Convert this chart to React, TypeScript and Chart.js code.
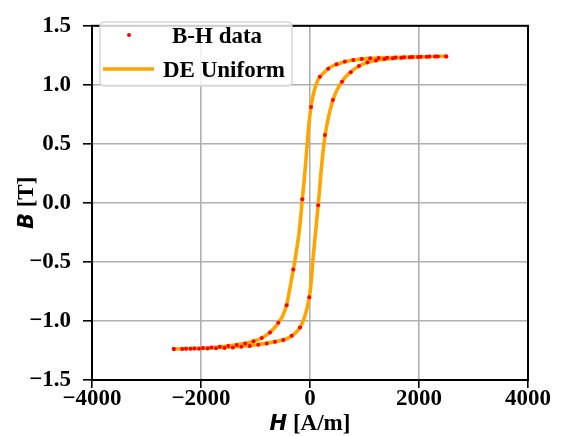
import React, { useEffect, useRef } from 'react';
import { Chart, registerables } from 'chart.js';

Chart.register(...registerables);

// Axis ticks
const xTickValues = [-4000, -2000, 0, 2000, 4000];
const xTickLabels = ['\u22124000', '\u22122000', '0', '2000', '4000'];
const yTickValues = [-1.5, -1.0, -0.5, 0.0, 0.5, 1.0, 1.5];
const yTickLabels = ['\u22121.5', '\u22121.0', '\u22120.5', '0.0', '0.5', '1.0', '1.5'];

// Legend labels
const legendLabels = ['B-H data', 'DE Uniform'];

// Measured B-H data, descending branch (H from +2500 to -2500)
const dataHDesc = [2500, 2345, 2190, 2035, 1880, 1725, 1570, 1415, 1260, 1105, 950, 795, 640, 487, 335, 180, 18, -141, -306, -428, -581, -734, -885, -1035, -1190, -1345, -1500, -1655, -1810, -1965, -2120, -2275, -2500];
const dataBDesc = [1.241, 1.240, 1.239, 1.238, 1.236, 1.234, 1.232, 1.230, 1.228, 1.225, 1.219, 1.211, 1.197, 1.174, 1.137, 1.068, 0.812, 0.030, -0.565, -0.866, -1.016, -1.097, -1.145, -1.172, -1.190, -1.203, -1.212, -1.219, -1.225, -1.229, -1.233, -1.236, -1.238];

// Measured B-H data, ascending branch (H from -2500 to +2500)
const dataHAsc = [-2500, -2345, -2190, -2035, -1880, -1725, -1570, -1415, -1260, -1105, -950, -795, -642, -490, -336, -183, -13, 150, 275, 420, 587, 747, 899, 1055, 1210, 1365, 1520, 1675, 1830, 1985, 2140, 2295, 2500];
const dataBAsc = [-1.238, -1.237, -1.236, -1.235, -1.233, -1.231, -1.228, -1.224, -1.218, -1.211, -1.201, -1.190, -1.177, -1.161, -1.126, -1.055, -0.800, -0.020, 0.576, 0.871, 1.027, 1.107, 1.159, 1.190, 1.207, 1.218, 1.225, 1.230, 1.234, 1.236, 1.238, 1.240, 1.241];

// DE Uniform model curve, descending branch
const fitHDesc = [2500, 2100, 1800, 1500, 1250, 1100, 950, 800, 650, 500, 420, 335, 260, 210, 183, 140, 104, 70, 42, 18, 0, -20, -42, -65, -90, -115, -141, -170, -200, -240, -270, -306, -360, -428, -500, -581, -660, -734, -810, -885, -1035, -1200, -1500, -1800, -2100, -2500];
const fitBDesc = [1.242, 1.238, 1.235, 1.231, 1.227, 1.224, 1.218, 1.210, 1.196, 1.175, 1.160, 1.137, 1.105, 1.082, 1.068, 1.035, 0.990, 0.935, 0.877, 0.812, 0.750, 0.670, 0.550, 0.420, 0.280, 0.150, 0.030, -0.120, -0.250, -0.380, -0.470, -0.565, -0.700, -0.862, -0.955, -1.016, -1.062, -1.097, -1.124, -1.145, -1.172, -1.191, -1.212, -1.225, -1.232, -1.237];

// DE Uniform model curve, ascending branch
const fitHAsc = [-2500, -2100, -1800, -1500, -1200, -1000, -800, -650, -500, -400, -300, -220, -160, -110, -70, -40, -13, 10, 30, 50, 75, 100, 125, 150, 175, 200, 225, 250, 275, 310, 350, 420, 500, 587, 660, 747, 820, 899, 1000, 1100, 1250, 1500, 1800, 2100, 2500];
const fitBAsc = [-1.237, -1.233, -1.228, -1.222, -1.212, -1.203, -1.190, -1.177, -1.161, -1.145, -1.115, -1.078, -1.035, -0.980, -0.920, -0.860, -0.800, -0.720, -0.620, -0.500, -0.380, -0.260, -0.140, -0.020, 0.110, 0.250, 0.370, 0.475, 0.565, 0.660, 0.750, 0.870, 0.960, 1.027, 1.070, 1.107, 1.135, 1.158, 1.182, 1.196, 1.210, 1.224, 1.232, 1.237, 1.242];

const SERIF = "'Liberation Serif', 'Times New Roman', serif";
const SANS = "'DejaVu Sans', sans-serif";

const toPoints = (xs: number[], ys: number[]) => xs.map((x, i) => ({ x, y: ys[i] }));

const decorPlugin = {
  id: 'decor',
  afterDatasetsDraw(chart: any) {
    const { ctx, chartArea } = chart;
    const { left, right, top, bottom } = chartArea;
    ctx.save();
    // frame
    ctx.strokeStyle = '#000';
    ctx.lineWidth = 2;
    ctx.strokeRect(left, top, right - left, bottom - top);

    // legend box
    const bx = 100, by = 22, bw = 192, bh = 64, r = 5;
    ctx.beginPath();
    ctx.moveTo(bx + r, by);
    ctx.lineTo(bx + bw - r, by);
    ctx.quadraticCurveTo(bx + bw, by, bx + bw, by + r);
    ctx.lineTo(bx + bw, by + bh - r);
    ctx.quadraticCurveTo(bx + bw, by + bh, bx + bw - r, by + bh);
    ctx.lineTo(bx + r, by + bh);
    ctx.quadraticCurveTo(bx, by + bh, bx, by + bh - r);
    ctx.lineTo(bx, by + r);
    ctx.quadraticCurveTo(bx, by, bx + r, by);
    ctx.closePath();
    ctx.fillStyle = 'rgba(255,255,255,0.8)';
    ctx.fill();
    ctx.strokeStyle = '#d6d6d6';
    ctx.lineWidth = 1.5;
    ctx.stroke();

    // legend entries
    ctx.fillStyle = '#ff0000';
    ctx.beginPath();
    ctx.arc(129, 35, 2, 0, Math.PI * 2);
    ctx.fill();
    ctx.strokeStyle = '#FFA500';
    ctx.lineWidth = 3.5;
    ctx.beginPath();
    ctx.moveTo(103, 69);
    ctx.lineTo(154, 69);
    ctx.stroke();

    ctx.fillStyle = '#000';
    ctx.textAlign = 'left';
    ctx.textBaseline = 'alphabetic';
    ctx.font = `bold 23px ${SERIF}`;
    ctx.fillText(legendLabels[0], 172, 43);
    ctx.fillText(legendLabels[1], 163, 77);

    // x axis title: H [A/m]
    const xPart1 = 'H';
    const xPart2 = ' [A/m]';
    ctx.font = `italic bold 21px ${SANS}`;
    const w1 = ctx.measureText(xPart1).width;
    ctx.font = `bold 23px ${SERIF}`;
    const w2 = ctx.measureText(xPart2).width;
    const cx = (left + right) / 2;
    const sx = cx - (w1 + w2) / 2;
    const baseY = 430;
    ctx.font = `italic bold 21px ${SANS}`;
    ctx.fillText(xPart1, sx, baseY);
    ctx.font = `bold 23px ${SERIF}`;
    ctx.fillText(xPart2, sx + w1, baseY);

    // y axis title: B [T]
    const yPart1 = 'B';
    const yPart2 = ' [T]';
    ctx.font = `italic bold 21px ${SANS}`;
    const v1 = ctx.measureText(yPart1).width;
    ctx.font = `bold 23px ${SERIF}`;
    const v2 = ctx.measureText(yPart2).width;
    ctx.translate(33, (top + bottom) / 2);
    ctx.rotate(-Math.PI / 2);
    const sy = -(v1 + v2) / 2;
    ctx.font = `italic bold 21px ${SANS}`;
    ctx.fillText(yPart1, sy, 0);
    ctx.font = `bold 23px ${SERIF}`;
    ctx.fillText(yPart2, sy + v1, 0);
    ctx.restore();
  },
};

export default function App() {
  const canvasRef = useRef<HTMLCanvasElement | null>(null);

  useEffect(() => {
    document.body.style.margin = '0';
    const canvas = canvasRef.current;
    if (!canvas) return;
    const dataPoints = [...toPoints(dataHDesc, dataBDesc), ...toPoints(dataHAsc, dataBAsc)];
    const fitPoints = [...toPoints(fitHDesc, fitBDesc), ...toPoints(fitHAsc, fitBAsc)];

    const chart = new Chart(canvas, {
      type: 'scatter',
      data: {
        datasets: [
          {
            label: legendLabels[0],
            data: dataPoints,
            pointRadius: 2,
            pointBackgroundColor: '#ff0000',
            pointBorderWidth: 0,
            showLine: false,
          },
          {
            label: legendLabels[1],
            data: fitPoints,
            showLine: true,
            pointRadius: 0,
            borderColor: '#FFA500',
            borderWidth: 3.6,
            tension: 0.2,
            fill: false,
          },
        ],
      },
      options: {
        animation: false,
        responsive: false,
        maintainAspectRatio: false,
        devicePixelRatio: 1,
        layout: { padding: { left: 0, top: 14, right: 33, bottom: 0 } },
        plugins: {
          legend: { display: false },
          tooltip: { enabled: false },
        },
        scales: {
          x: {
            type: 'linear',
            min: -4000,
            max: 4000,
            afterBuildTicks: (scale: any) => {
              scale.ticks = xTickValues.map((v) => ({ value: v }));
            },
            afterFit: (scale: any) => {
              scale.height = 56;
            },
            ticks: {
              color: '#000',
              font: { family: SERIF, size: 23, weight: 'bold', lineHeight: 1 },
              padding: 0,
              maxRotation: 0,
              callback: (value: any) => {
                const i = xTickValues.indexOf(Number(value));
                return i >= 0 ? xTickLabels[i] : '';
              },
            },
            grid: {
              color: '#b0b0b0',
              lineWidth: 1.6,
              tickColor: '#000',
              tickWidth: 1.6,
              tickLength: 8,
              drawTicks: true,
            },
            border: { display: false },
          },
          y: {
            type: 'linear',
            min: -1.5,
            max: 1.5,
            afterBuildTicks: (scale: any) => {
              scale.ticks = yTickValues.map((v) => ({ value: v }));
            },
            afterFit: (scale: any) => {
              scale.width = 92;
            },
            ticks: {
              color: '#000',
              font: { family: SERIF, size: 23, weight: 'bold' },
              padding: 12,
              callback: (value: any) => {
                const i = yTickValues.findIndex((v) => Math.abs(v - Number(value)) < 1e-6);
                return i >= 0 ? yTickLabels[i] : '';
              },
            },
            grid: {
              color: '#b0b0b0',
              lineWidth: 1.6,
              tickColor: '#000',
              tickWidth: 1.6,
              tickLength: 9,
              drawTicks: true,
            },
            border: { display: false },
          },
        },
      },
      plugins: [decorPlugin],
    });
    return () => chart.destroy();
  }, []);

  return (
    <div style={{ width: 561, height: 436, background: '#fff' }}>
      <canvas ref={canvasRef} width={561} height={436} style={{ display: 'block' }} />
    </div>
  );
}
